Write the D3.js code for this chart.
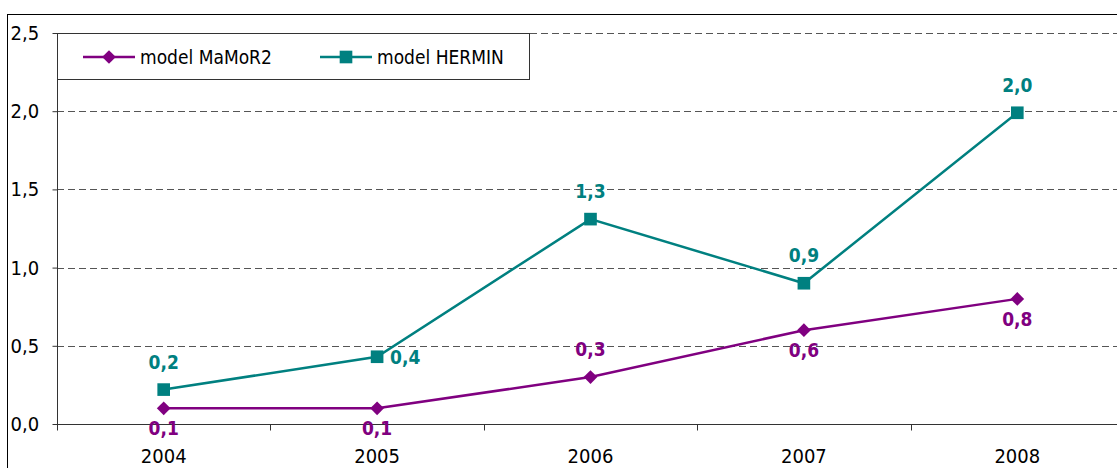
<!DOCTYPE html>
<html lang="en">
<head>
    <meta charset="UTF-8" />
    <title>MaMoR2 vs HERMIN</title>
    <script src="https://d3js.org/d3.v7.min.js"></script>
    <style>
        body { margin: 0; background: #fff; }
        svg { display: block; font-family: "DejaVu Sans Condensed", "DejaVu Sans", sans-serif; }
    </style>
</head>
<body>
    <div id="chart"></div>
    <script>
        var w = 1117;
        var h = 468;

        var years = ["2004", "2005", "2006", "2007", "2008"];
        var mamor2 = [0.1, 0.1, 0.3, 0.6, 0.8];
        var hermin = [0.22, 0.43, 1.31, 0.9, 1.99];
        var mamor2Labels = ["0,1", "0,1", "0,3", "0,6", "0,8"];
        var herminLabels = ["0,2", "0,4", "1,3", "0,9", "2,0"];
        var yTicks = [0, 0.5, 1, 1.5, 2, 2.5];

        // where each value label sits relative to its point
        var mamor2Pos = ["below", "below", "above", "below", "below"];
        var herminPos = ["above", "right", "above", "above", "above"];

        var purple = "#800080";
        var teal = "#008080";
        var font = "DejaVu Sans Condensed, DejaVu Sans, sans-serif";

        var plot = { left: 57, right: 1124, top: 33, bottom: 424 };

        var svg = d3.select("#chart")
            .append("svg")
            .attr("width", w)
            .attr("height", h);

        // outer chart frame (runs off the right and bottom of the picture)
        svg.append("rect")
            .attr("x", 7.5)
            .attr("y", 14.5)
            .attr("width", w + 20)
            .attr("height", h + 20)
            .attr("fill", "none")
            .attr("stroke", "#000")
            .attr("stroke-width", 1);

        var xScale = d3.scaleBand()
            .domain(years)
            .range([plot.left, plot.right]);

        var yScale = d3.scaleLinear()
            .domain([0, 2.5])
            .range([plot.bottom, plot.top]);

        // dashed gridlines
        svg.append("g")
            .selectAll("line")
            .data(yTicks.filter(function (d) { return d > 0; }))
            .enter()
            .append("line")
            .attr("x1", plot.left)
            .attr("x2", plot.right)
            .attr("y1", function (d) { return Math.round(yScale(d)) + 0.5; })
            .attr("y2", function (d) { return Math.round(yScale(d)) + 0.5; })
            .attr("stroke", "#555")
            .attr("stroke-width", 1)
            .attr("stroke-dasharray", "7,4");

        // y axis
        var yAxis = d3.axisLeft(yScale)
            .tickValues(yTicks)
            .tickSize(5)
            .tickPadding(6)
            .tickFormat(function (d) { return d3.format(".1f")(d).replace(".", ","); });

        var gy = svg.append("g")
            .attr("transform", "translate(" + (plot.left + 0.5) + ",0)")
            .call(yAxis);
        gy.select(".domain").remove();
        gy.append("line")
            .attr("y1", plot.top)
            .attr("y2", plot.bottom)
            .attr("stroke", "#333");
        gy.selectAll(".tick line").attr("stroke", "#333");
        gy.selectAll("text")
            .attr("x", -47)
            .attr("text-anchor", "start")
            .attr("font-size", "20px")
            .attr("fill", "#000")
            .attr("font-family", font);

        // x axis, ticks between categories
        var gx = svg.append("g")
            .attr("transform", "translate(0," + (plot.bottom + 0.5) + ")");
        gx.append("line")
            .attr("x1", plot.left)
            .attr("x2", plot.right)
            .attr("stroke", "#333");
        gx.selectAll(".sep")
            .data(years)
            .enter()
            .append("line")
            .attr("class", "sep")
            .attr("x1", function (d) { return Math.round(xScale(d)) + 0.5; })
            .attr("x2", function (d) { return Math.round(xScale(d)) + 0.5; })
            .attr("y1", 0)
            .attr("y2", 6)
            .attr("stroke", "#333");
        gx.selectAll("text")
            .data(years)
            .enter()
            .append("text")
            .attr("x", function (d) { return xScale(d) + xScale.bandwidth() / 2; })
            .attr("y", 38)
            .attr("text-anchor", "middle")
            .attr("font-size", "20px")
            .text(function (d) { return d; });

        function cx(i) { return xScale(years[i]) + xScale.bandwidth() / 2; }

        var line = d3.line()
            .x(function (d, i) { return cx(i); })
            .y(function (d) { return yScale(d); });

        function drawSeries(values, color, shape) {
            svg.append("path")
                .datum(values)
                .attr("d", line)
                .attr("fill", "none")
                .attr("stroke", color)
                .attr("stroke-width", 2.5);

            svg.append("g")
                .selectAll("path")
                .data(values)
                .enter()
                .append("path")
                .attr("transform", function (d, i) { return "translate(" + cx(i) + "," + yScale(d) + ")"; })
                .attr("d", d3.symbol().type(shape).size(shape === d3.symbolSquare ? 160 : 120))
                .attr("fill", color);
        }

        function drawLabels(values, labels, pos, color) {
            svg.append("g")
                .selectAll("text")
                .data(values)
                .enter()
                .append("text")
                .attr("x", function (d, i) { return pos[i] === "right" ? cx(i) + 13 : cx(i); })
                .attr("y", function (d, i) {
                    var y = yScale(d);
                    if (pos[i] === "above") return y - 21;
                    if (pos[i] === "below") return y + 27;
                    return y + 7;
                })
                .attr("text-anchor", function (d, i) { return pos[i] === "right" ? "start" : "middle"; })
                .attr("font-size", "19px")
                .attr("font-weight", "bold")
                .attr("fill", color)
                .text(function (d, i) { return labels[i]; });
        }

        drawSeries(mamor2, purple, d3.symbolDiamond2);
        drawSeries(hermin, teal, d3.symbolSquare);
        drawLabels(mamor2, mamor2Labels, mamor2Pos, purple);
        drawLabels(hermin, herminLabels, herminPos, teal);

        // legend
        var legend = svg.append("g");
        legend.append("rect")
            .attr("x", plot.left + 0.5)
            .attr("y", plot.top + 0.5)
            .attr("width", 472)
            .attr("height", 46)
            .attr("fill", "#fff")
            .attr("stroke", "#333");

        var legendItems = [
            { name: "model MaMoR2", color: purple, shape: d3.symbolDiamond2, x: 83 },
            { name: "model HERMIN", color: teal, shape: d3.symbolSquare, x: 320 }
        ];
        var ly = 57;
        legendItems.forEach(function (it) {
            legend.append("line")
                .attr("x1", it.x)
                .attr("x2", it.x + 52)
                .attr("y1", ly)
                .attr("y2", ly)
                .attr("stroke", it.color)
                .attr("stroke-width", 2.5);
            legend.append("path")
                .attr("transform", "translate(" + (it.x + 26) + "," + ly + ")")
                .attr("d", d3.symbol().type(it.shape).size(it.shape === d3.symbolSquare ? 160 : 120))
                .attr("fill", it.color);
            legend.append("text")
                .attr("x", it.x + 57)
                .attr("y", ly + 7)
                .attr("font-size", "19px")
                .text(it.name);
        });
    </script>
</body>
</html>
